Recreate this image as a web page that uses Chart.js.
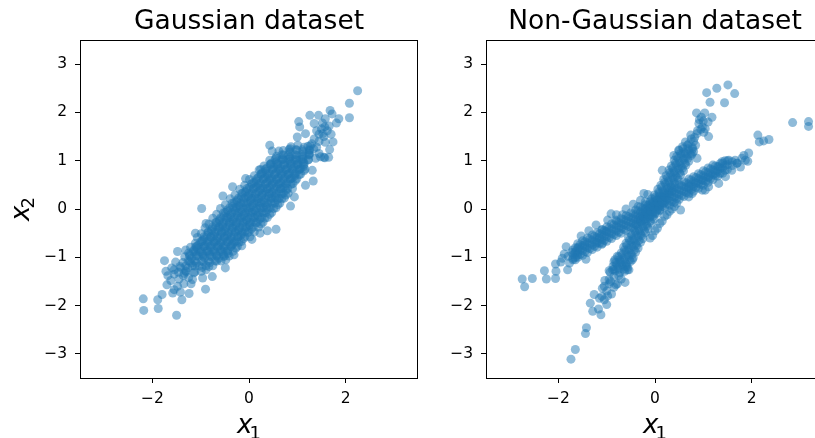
<!DOCTYPE html>
<html>
<head>
<meta charset="utf-8">
<script src="https://cdn.jsdelivr.net/npm/chart.js@4"></script>
<style>
  html, body { margin: 0; padding: 0; background: #fff; }
  body { position: relative; width: 815px; height: 438px; overflow: hidden; }
  canvas { position: absolute; top: 0; }
  #left { left: 0; }
  #right { left: 406px; }
</style>
</head>
<body>
<canvas id="left" width="430" height="438"></canvas>
<canvas id="right" width="430" height="438"></canvas>
<script>
// tick values and titles
const xTickValues = [-2, 0, 2];
const yTickValues = [-3, -2, -1, 0, 1, 2, 3];
const panelTitles = ['Gaussian dataset', 'Non-Gaussian dataset'];

// Gaussian dataset, [x1, x2] pairs
const gaussCore = [
  [-1.46,-1.31],[-1.31,-1.28],[-1.14,-1.32],[-0.99,-1.29],
  [-1.43,-1.19],[-1.27,-1.22],[-1.12,-1.18],[-0.97,-1.21],[-0.83,-1.19],
  [-1.37,-1.11],[-1.23,-1.08],[-1.09,-1.12],[-0.95,-1.09],[-0.81,-1.11],[-0.67,-1.08],
  [-1.33,-0.99],[-1.19,-1.02],[-1.05,-0.98],[-0.92,-1.01],[-0.77,-0.99],[-0.63,-1.02],[-0.51,-0.98],
  [-1.25,-0.91],[-1.11,-0.88],[-0.97,-0.92],[-0.83,-0.89],[-0.69,-0.91],[-0.55,-0.88],[-0.43,-0.92],
  [-1.21,-0.79],[-1.07,-0.82],[-0.93,-0.78],[-0.79,-0.81],[-0.65,-0.79],[-0.51,-0.82],[-0.37,-0.78],[-0.27,-0.81],
  [-1.11,-0.71],[-0.98,-0.68],[-0.85,-0.72],[-0.72,-0.69],[-0.59,-0.71],[-0.46,-0.68],[-0.33,-0.72],[-0.21,-0.69],
  [-1.07,-0.59],[-0.93,-0.62],[-0.79,-0.58],[-0.65,-0.61],[-0.51,-0.59],[-0.37,-0.62],[-0.23,-0.58],[-0.11,-0.61],
  [-0.99,-0.51],[-0.85,-0.48],[-0.71,-0.52],[-0.57,-0.49],[-0.43,-0.51],[-0.29,-0.48],[-0.15,-0.52],[-0.03,-0.49],
  [-0.91,-0.39],[-0.77,-0.42],[-0.63,-0.38],[-0.49,-0.41],[-0.35,-0.39],[-0.21,-0.42],[-0.07,-0.38],[0.05,-0.41],
  [-0.83,-0.31],[-0.69,-0.28],[-0.55,-0.32],[-0.41,-0.29],[-0.27,-0.31],[-0.13,-0.28],[0.01,-0.32],[0.14,-0.29],[0.25,-0.31],
  [-0.75,-0.19],[-0.61,-0.22],[-0.47,-0.18],[-0.33,-0.21],[-0.19,-0.19],[-0.05,-0.22],[0.09,-0.18],[0.22,-0.21],[0.33,-0.19],
  [-0.67,-0.11],[-0.53,-0.08],[-0.39,-0.12],[-0.25,-0.09],[-0.11,-0.11],[0.03,-0.08],[0.17,-0.12],[0.30,-0.09],[0.43,-0.11],
  [-0.59,0.01],[-0.45,-0.02],[-0.31,0.02],[-0.17,-0.01],[-0.03,0.01],[0.11,-0.02],[0.25,0.02],[0.38,-0.01],[0.51,0.01],
  [-0.49,0.09],[-0.35,0.12],[-0.21,0.08],[-0.07,0.11],[0.07,0.09],[0.21,0.12],[0.35,0.08],[0.48,0.11],[0.60,0.09],
  [-0.39,0.21],[-0.25,0.18],[-0.11,0.22],[0.03,0.19],[0.17,0.21],[0.31,0.18],[0.45,0.22],[0.58,0.19],[0.68,0.21],
  [-0.29,0.29],[-0.15,0.32],[-0.01,0.28],[0.13,0.31],[0.27,0.29],[0.41,0.32],[0.55,0.28],[0.67,0.31],[0.76,0.29],
  [-0.19,0.41],[-0.05,0.38],[0.09,0.42],[0.23,0.39],[0.37,0.41],[0.51,0.38],[0.65,0.42],[0.77,0.39],
  [-0.09,0.49],[0.05,0.52],[0.19,0.48],[0.33,0.51],[0.47,0.49],[0.61,0.52],[0.75,0.48],[0.87,0.51],
  [0.01,0.61],[0.15,0.58],[0.29,0.62],[0.43,0.59],[0.57,0.61],[0.71,0.58],[0.85,0.62],[0.96,0.59],
  [0.11,0.69],[0.25,0.72],[0.39,0.68],[0.53,0.71],[0.67,0.69],[0.81,0.72],[0.94,0.68],[1.04,0.71],
  [0.21,0.81],[0.35,0.78],[0.49,0.82],[0.63,0.79],[0.77,0.81],[0.91,0.78],[1.04,0.82],[1.14,0.79],
  [0.31,0.89],[0.45,0.92],[0.59,0.88],[0.73,0.91],[0.87,0.89],[1.01,0.92],[1.13,0.88],
  [0.43,1.01],[0.57,0.98],[0.71,1.02],[0.85,0.99],[0.99,1.01],[1.12,0.98],[1.23,1.02],
  [0.57,1.09],[0.71,1.12],[0.85,1.08],[0.99,1.11],[1.12,1.09],[1.25,1.12],
  [0.71,1.21],[0.85,1.18],[0.99,1.22],[1.12,1.19],[1.25,1.21],
  [0.87,1.29],[1.01,1.32],[1.14,1.28],[1.27,1.31],
  [-1.23,-0.95],[-1.09,-0.96],[-0.95,-0.94],[-0.81,-0.95],[-0.67,-0.96],[-0.53,-0.94],
  [-1.14,-0.85],[-1.00,-0.84],[-0.86,-0.86],[-0.72,-0.85],[-0.58,-0.84],[-0.44,-0.86],
  [-1.05,-0.75],[-0.91,-0.76],[-0.77,-0.74],[-0.63,-0.75],[-0.49,-0.76],[-0.35,-0.74],
  [-0.96,-0.65],[-0.82,-0.64],[-0.68,-0.66],[-0.54,-0.65],[-0.40,-0.64],[-0.26,-0.66],
  [-0.87,-0.55],[-0.73,-0.56],[-0.59,-0.54],[-0.45,-0.55],[-0.31,-0.56],[-0.17,-0.54],
  [-0.78,-0.45],[-0.64,-0.44],[-0.50,-0.46],[-0.36,-0.45],[-0.22,-0.44],[-0.08,-0.46],
  [-0.69,-0.35],[-0.55,-0.36],[-0.41,-0.34],[-0.27,-0.35],[-0.13,-0.36],[0.01,-0.34],
  [-0.61,-0.25],[-0.47,-0.24],[-0.33,-0.26],[-0.19,-0.25],[-0.05,-0.24],[0.09,-0.26],
  [-0.52,-0.15],[-0.38,-0.16],[-0.24,-0.14],[-0.10,-0.15],[0.04,-0.16],[0.18,-0.14],
  [-0.43,-0.05],[-0.29,-0.04],[-0.15,-0.06],[-0.01,-0.05],[0.13,-0.04],[0.27,-0.06],
  [-0.34,0.05],[-0.20,0.06],[-0.06,0.04],[0.08,0.05],[0.22,0.06],[0.36,0.04],
  [-0.25,0.15],[-0.11,0.14],[0.03,0.16],[0.17,0.15],[0.31,0.14],[0.45,0.16],
  [-0.16,0.25],[-0.02,0.26],[0.12,0.24],[0.26,0.25],[0.40,0.26],[0.54,0.24],
  [-0.08,0.35],[0.06,0.34],[0.20,0.36],[0.34,0.35],[0.48,0.34],[0.62,0.36],
  [0.01,0.45],[0.15,0.46],[0.29,0.44],[0.43,0.45],[0.57,0.46],[0.71,0.44],
  [0.10,0.55],[0.24,0.54],[0.38,0.56],[0.52,0.55],[0.66,0.54],[0.80,0.56],
  [0.19,0.65],[0.33,0.66],[0.47,0.64],[0.61,0.65],[0.75,0.66],[0.89,0.64],
  [0.28,0.75],[0.42,0.74],[0.56,0.76],[0.70,0.75],[0.84,0.74],[0.98,0.76],
  [0.37,0.85],[0.51,0.86],[0.65,0.84],[0.79,0.85],[0.93,0.86],[1.07,0.84],
  [0.46,0.95],[0.60,0.94],[0.74,0.96],[0.88,0.95],[1.02,0.94],[1.14,0.96],
  [0.56,1.05],[0.70,1.04],[0.84,1.06],[0.98,1.05],[1.12,1.04]
];
const gaussCoreFill = [
  [-1.31,-1.175],[-1.17,-1.175],[-1.03,-1.175],[-0.89,-1.175],[-0.75,-1.175],
  [-1.26,-1.075],[-1.12,-1.075],[-0.98,-1.075],[-0.84,-1.075],[-0.70,-1.075],[-0.58,-1.075],
  [-1.23,-0.975],[-1.09,-0.975],[-0.95,-0.975],[-0.81,-0.975],[-0.67,-0.975],[-0.53,-0.975],[-0.41,-0.975],
  [-1.15,-0.875],[-1.01,-0.875],[-0.87,-0.875],[-0.73,-0.875],[-0.59,-0.875],[-0.45,-0.875],[-0.33,-0.875],
  [-1.08,-0.775],[-0.94,-0.775],[-0.80,-0.775],[-0.66,-0.775],[-0.52,-0.775],[-0.38,-0.775],[-0.24,-0.775],
  [-1.00,-0.675],[-0.86,-0.675],[-0.72,-0.675],[-0.58,-0.675],[-0.44,-0.675],[-0.30,-0.675],[-0.16,-0.675],
  [-0.93,-0.575],[-0.79,-0.575],[-0.65,-0.575],[-0.51,-0.575],[-0.37,-0.575],[-0.23,-0.575],[-0.09,-0.575],[0.02,-0.575],
  [-0.84,-0.475],[-0.70,-0.475],[-0.56,-0.475],[-0.42,-0.475],[-0.28,-0.475],[-0.14,-0.475],[0.00,-0.475],[0.11,-0.475],
  [-0.75,-0.375],[-0.61,-0.375],[-0.47,-0.375],[-0.33,-0.375],[-0.19,-0.375],[-0.05,-0.375],[0.09,-0.375],[0.20,-0.375],
  [-0.67,-0.275],[-0.53,-0.275],[-0.39,-0.275],[-0.25,-0.275],[-0.11,-0.275],[0.03,-0.275],[0.17,-0.275],[0.29,-0.275],
  [-0.58,-0.175],[-0.44,-0.175],[-0.30,-0.175],[-0.16,-0.175],[-0.02,-0.175],[0.12,-0.175],[0.26,-0.175],[0.38,-0.175],
  [-0.49,-0.075],[-0.35,-0.075],[-0.21,-0.075],[-0.07,-0.075],[0.07,-0.075],[0.21,-0.075],[0.35,-0.075],[0.47,-0.075],
  [-0.40,0.025],[-0.26,0.025],[-0.12,0.025],[0.02,0.025],[0.16,0.025],[0.30,0.025],[0.44,0.025],[0.56,0.025],
  [-0.31,0.125],[-0.17,0.125],[-0.03,0.125],[0.11,0.125],[0.25,0.125],[0.39,0.125],[0.53,0.125],[0.64,0.125],
  [-0.22,0.225],[-0.08,0.225],[0.06,0.225],[0.20,0.225],[0.34,0.225],[0.48,0.225],[0.62,0.225],[0.73,0.225],
  [-0.13,0.325],[0.01,0.325],[0.15,0.325],[0.29,0.325],[0.43,0.325],[0.57,0.325],[0.71,0.325],[0.81,0.325],
  [-0.04,0.425],[0.10,0.425],[0.24,0.425],[0.38,0.425],[0.52,0.425],[0.66,0.425],[0.80,0.425],[0.90,0.425],
  [0.07,0.525],[0.21,0.525],[0.35,0.525],[0.49,0.525],[0.63,0.525],[0.77,0.525],[0.91,0.525],
  [0.16,0.625],[0.30,0.625],[0.44,0.625],[0.58,0.625],[0.72,0.625],[0.86,0.625],[0.99,0.625],
  [0.25,0.725],[0.39,0.725],[0.53,0.725],[0.67,0.725],[0.81,0.725],[0.95,0.725],[1.07,0.725],
  [0.34,0.825],[0.48,0.825],[0.62,0.825],[0.76,0.825],[0.90,0.825],[1.04,0.825],[1.16,0.825],
  [0.44,0.925],[0.58,0.925],[0.72,0.925],[0.86,0.925],[1.00,0.925],[1.14,0.925],
  [0.54,1.025],[0.68,1.025],[0.82,1.025],[0.96,1.025],[1.10,1.025],[1.23,1.025],
  [0.68,1.125],[0.82,1.125],[0.96,1.125],[1.10,1.125],[1.24,1.125],
  [0.83,1.225],[0.97,1.225],[1.11,1.225],[1.25,1.225]
];
const gaussHalo = [
  [2.25,2.45],[2.08,2.19],[2.08,1.89],[1.68,2.04],[1.72,1.97],[1.44,1.94],[1.26,1.94],
  [1.03,1.81],[1.05,1.70],[1.35,1.77],[1.58,1.87],[1.86,1.87],[1.81,1.78],[1.57,1.70],
  [1.17,1.56],[1.00,1.49],[1.53,1.56],[1.74,1.39],[1.67,1.23],[1.55,1.07],[1.65,1.07],
  [1.34,1.25],[0.43,1.32],[0.48,1.20],[0.62,1.20],[0.85,1.25],[1.31,0.80],[1.17,0.49],
  [1.33,0.58],[0.94,0.25],[0.86,0.06],[0.24,0.82],[0.56,-0.42],[0.38,-0.45],[0.23,-0.50],
  [0.06,-0.63],[-0.15,-0.76],[-0.31,-0.95],[-0.48,-1.05],[-0.49,-1.22],[-0.76,-1.40],
  [-0.90,-1.66],[-0.96,-1.43],[-1.17,-1.46],[-1.24,-1.75],[-1.39,-1.88],[-1.50,-2.20],
  [-1.55,-1.67],[-1.70,-1.57],[-1.72,-1.29],[-1.75,-1.07],[-1.80,-1.77],[-1.89,-1.88],
  [-1.88,-2.06],[-2.19,-1.86],[-2.18,-2.10],[-1.48,-0.88],[-1.31,-0.85],[-1.11,-0.50],
  [-0.98,0.01],[-0.54,0.27],[-0.34,0.46],[-0.07,0.63],[-0.89,-0.30],[-1.10,-0.78],
  [-1.20,-1.12],[-1.34,-1.33],[-1.55,-1.26],[-0.89,-1.26],[-1.58,-1.74],
  [1.35,1.45],[1.45,1.55],[1.55,1.50],[1.62,1.62],[1.50,1.66],[1.40,1.62],[1.70,1.55],
  [1.58,1.38],[1.45,1.40],[1.66,1.72],[1.52,1.78],[1.30,1.35],[1.22,1.30],[1.40,1.28],
  [1.25,1.15],[1.45,1.15],[1.38,1.05],[1.48,1.08],[1.57,1.06],
  [-1.45,-1.45],[-1.55,-1.35],[-1.35,-1.55],[-1.62,-1.48],[-1.48,-1.60],[-1.30,-1.30],
  [-1.42,-1.22],[-1.60,-1.22],[-1.25,-1.42],[-1.12,-1.30],[-1.68,-1.38],[-1.42,-1.72],
  [-1.36,-1.38],[-1.20,-1.55],[-1.52,-1.10]
];

// Non-Gaussian dataset: steep arm, shallow arm, centre filler and tails
const nonGaussSteep = [
  [-0.93,-1.31],[-0.83,-1.28],[-0.73,-1.32],[-0.63,-1.29],
  [-0.87,-1.19],[-0.77,-1.22],[-0.67,-1.18],[-0.57,-1.21],
  [-0.81,-1.11],[-0.71,-1.08],[-0.61,-1.12],[-0.51,-1.09],
  [-0.75,-0.99],[-0.65,-1.02],[-0.55,-0.98],[-0.45,-1.01],
  [-0.70,-0.91],[-0.60,-0.88],[-0.50,-0.92],[-0.40,-0.89],
  [-0.65,-0.79],[-0.55,-0.82],[-0.45,-0.78],[-0.35,-0.81],
  [-0.60,-0.71],[-0.50,-0.68],[-0.40,-0.72],[-0.30,-0.69],
  [-0.55,-0.59],[-0.45,-0.62],[-0.35,-0.58],[-0.25,-0.61],
  [-0.50,-0.51],[-0.40,-0.48],[-0.30,-0.52],[-0.20,-0.49],
  [-0.44,-0.39],[-0.34,-0.42],[-0.24,-0.38],[-0.14,-0.41],
  [-0.38,-0.31],[-0.28,-0.28],[-0.18,-0.32],[-0.08,-0.29],
  [-0.32,-0.19],[-0.22,-0.22],[-0.12,-0.18],[-0.02,-0.21],
  [-0.26,-0.11],[-0.16,-0.08],[-0.06,-0.12],[0.04,-0.09],
  [-0.20,0.01],[-0.10,-0.02],[0.00,0.02],[0.10,-0.01],
  [-0.13,0.09],[-0.03,0.12],[0.07,0.08],[0.17,0.11],
  [-0.07,0.21],[0.03,0.18],[0.13,0.22],[0.23,0.19],
  [-0.01,0.29],[0.09,0.32],[0.19,0.28],[0.29,0.31],
  [0.06,0.41],[0.16,0.38],[0.26,0.42],[0.36,0.39],
  [0.12,0.49],[0.22,0.52],[0.32,0.48],[0.42,0.51],
  [0.18,0.61],[0.28,0.58],[0.38,0.62],[0.48,0.59],
  [0.23,0.69],[0.33,0.72],[0.43,0.68],[0.53,0.71],
  [0.29,0.81],[0.39,0.78],[0.49,0.82],[0.59,0.79],
  [0.34,0.89],[0.44,0.92],[0.54,0.88],[0.64,0.91],
  [0.40,1.01],[0.50,0.98],[0.60,1.02],[0.70,0.99],
  [0.45,1.09],[0.55,1.12],[0.65,1.08],[0.75,1.11],
  [0.50,1.21],[0.60,1.18],[0.70,1.22],[0.80,1.19],
  [0.57,1.29],[0.67,1.32],[0.77,1.28],
  [0.75,1.45],[0.82,1.48],[0.88,1.62],[0.95,1.65],[0.92,1.85],[1.00,1.82],[0.80,1.40],[0.70,1.35]
];
const nonGaussSteepFill = [
  [-0.85,-1.25],[-0.75,-1.25],[-0.65,-1.25],
  [-0.79,-1.15],[-0.69,-1.15],[-0.59,-1.15],
  [-0.73,-1.05],[-0.63,-1.05],[-0.53,-1.05],
  [-0.68,-0.95],[-0.58,-0.95],[-0.48,-0.95],
  [-0.63,-0.85],[-0.53,-0.85],[-0.43,-0.85],
  [-0.58,-0.75],[-0.48,-0.75],[-0.38,-0.75],
  [-0.53,-0.65],[-0.43,-0.65],[-0.33,-0.65],
  [-0.48,-0.55],[-0.38,-0.55],[-0.28,-0.55],
  [-0.42,-0.45],[-0.32,-0.45],[-0.22,-0.45],
  [-0.36,-0.35],[-0.26,-0.35],[-0.16,-0.35],
  [-0.30,-0.25],[-0.20,-0.25],[-0.10,-0.25],
  [-0.24,-0.15],[-0.14,-0.15],[-0.04,-0.15],
  [-0.18,-0.05],[-0.08,-0.05],[0.02,-0.05],
  [-0.12,0.05],[-0.02,0.05],[0.08,0.05],
  [-0.05,0.15],[0.05,0.15],[0.15,0.15],
  [0.01,0.25],[0.11,0.25],[0.21,0.25],
  [0.08,0.35],[0.18,0.35],[0.28,0.35],
  [0.14,0.45],[0.24,0.45],[0.34,0.45],
  [0.20,0.55],[0.30,0.55],[0.40,0.55],
  [0.26,0.65],[0.36,0.65],[0.46,0.65],
  [0.31,0.75],[0.41,0.75],[0.51,0.75],
  [0.37,0.85],[0.47,0.85],[0.57,0.85],
  [0.42,0.95],[0.52,0.95],[0.62,0.95],
  [0.48,1.05],[0.58,1.05],[0.68,1.05],
  [0.53,1.15],[0.63,1.15],[0.73,1.15],
  [0.58,1.25],[0.68,1.25],[0.78,1.25]
];
const nonGaussShallow = [
  [-1.70,-1.05],[-1.70,-0.95],[-1.70,-0.85],
  [-1.60,-1.00],[-1.60,-0.90],[-1.60,-0.80],[-1.60,-0.72],
  [-1.50,-0.96],[-1.50,-0.86],[-1.50,-0.76],[-1.50,-0.66],
  [-1.40,-0.90],[-1.40,-0.80],[-1.40,-0.70],[-1.40,-0.60],
  [-1.30,-0.84],[-1.30,-0.74],[-1.30,-0.64],[-1.30,-0.54],
  [-1.20,-0.79],[-1.20,-0.69],[-1.20,-0.59],[-1.20,-0.49],
  [-1.10,-0.73],[-1.10,-0.63],[-1.10,-0.53],[-1.10,-0.43],
  [-1.00,-0.67],[-1.00,-0.57],[-1.00,-0.47],[-1.00,-0.37],
  [-0.90,-0.61],[-0.90,-0.51],[-0.90,-0.41],[-0.90,-0.31],
  [-0.80,-0.55],[-0.80,-0.45],[-0.80,-0.35],[-0.80,-0.25],
  [-0.70,-0.50],[-0.70,-0.40],[-0.70,-0.30],[-0.70,-0.20],
  [-0.60,-0.44],[-0.60,-0.34],[-0.60,-0.24],[-0.60,-0.14],
  [-0.50,-0.38],[-0.50,-0.28],[-0.50,-0.18],[-0.50,-0.08],
  [-0.40,-0.32],[-0.40,-0.22],[-0.40,-0.12],[-0.40,-0.02],
  [-0.30,-0.26],[-0.30,-0.16],[-0.30,-0.06],[-0.30,0.04],
  [-0.20,-0.21],[-0.20,-0.11],[-0.20,-0.01],[-0.20,0.09],
  [-0.10,-0.15],[-0.10,-0.05],[-0.10,0.05],[-0.10,0.15],
  [0.00,-0.09],[0.00,0.01],[0.00,0.11],[0.00,0.21],
  [0.10,-0.03],[0.10,0.07],[0.10,0.17],[0.10,0.27],
  [0.20,0.03],[0.20,0.13],[0.20,0.23],[0.20,0.33],
  [0.30,0.08],[0.30,0.18],[0.30,0.28],[0.30,0.38],
  [0.40,0.14],[0.40,0.24],[0.40,0.34],[0.40,0.44],
  [0.50,0.20],[0.50,0.30],[0.50,0.40],[0.50,0.50],
  [0.60,0.26],[0.60,0.36],[0.60,0.46],[0.60,0.56],
  [0.70,0.32],[0.70,0.42],[0.70,0.52],[0.70,0.62],
  [0.80,0.37],[0.80,0.47],[0.80,0.57],[0.80,0.67],
  [0.90,0.43],[0.90,0.53],[0.90,0.63],[0.90,0.73],
  [1.00,0.49],[1.00,0.59],[1.00,0.69],[1.00,0.79],
  [1.10,0.55],[1.10,0.65],[1.10,0.75],[1.10,0.85],
  [1.20,0.61],[1.20,0.71],[1.20,0.81],[1.20,0.91],
  [1.30,0.68],[1.30,0.78],[1.30,0.88],
  [1.40,0.74],[1.40,0.84],[1.40,0.94],
  [1.50,0.82],[1.50,0.92],[1.50,1.00],
  [1.60,0.90],[1.60,0.98],
  [1.70,0.95]
];
const nonGaussShallowFill = [
  [-1.65,-1.00],[-1.65,-0.90],[-1.65,-0.80],
  [-1.55,-0.94],[-1.55,-0.84],[-1.55,-0.74],
  [-1.45,-0.88],[-1.45,-0.78],[-1.45,-0.68],
  [-1.35,-0.82],[-1.35,-0.72],[-1.35,-0.62],
  [-1.25,-0.77],[-1.25,-0.67],[-1.25,-0.57],
  [-1.15,-0.71],[-1.15,-0.61],[-1.15,-0.51],
  [-1.05,-0.65],[-1.05,-0.55],[-1.05,-0.45],
  [-0.95,-0.59],[-0.95,-0.49],[-0.95,-0.39],
  [-0.85,-0.53],[-0.85,-0.43],[-0.85,-0.33],
  [-0.75,-0.48],[-0.75,-0.38],[-0.75,-0.28],
  [-0.65,-0.42],[-0.65,-0.32],[-0.65,-0.22],
  [-0.55,-0.36],[-0.55,-0.26],[-0.55,-0.16],
  [-0.45,-0.30],[-0.45,-0.20],[-0.45,-0.10],
  [-0.35,-0.24],[-0.35,-0.14],[-0.35,-0.04],
  [-0.25,-0.19],[-0.25,-0.09],[-0.25,0.01],
  [-0.15,-0.13],[-0.15,-0.03],[-0.15,0.07],
  [-0.05,-0.07],[-0.05,0.03],[-0.05,0.13],
  [0.05,-0.01],[0.05,0.09],[0.05,0.19],
  [0.15,0.05],[0.15,0.15],[0.15,0.25],
  [0.25,0.11],[0.25,0.21],[0.25,0.31],
  [0.35,0.16],[0.35,0.26],[0.35,0.36],
  [0.45,0.22],[0.45,0.32],[0.45,0.42],
  [0.55,0.28],[0.55,0.38],[0.55,0.48],
  [0.65,0.34],[0.65,0.44],[0.65,0.54],
  [0.75,0.40],[0.75,0.50],[0.75,0.60],
  [0.85,0.45],[0.85,0.55],[0.85,0.65],
  [0.95,0.51],[0.95,0.61],[0.95,0.71],
  [1.05,0.57],[1.05,0.67],[1.05,0.77],
  [1.15,0.63],[1.15,0.73],[1.15,0.83],
  [1.25,0.69],[1.25,0.79],[1.25,0.89],
  [1.35,0.74],[1.35,0.84],[1.35,0.94],
  [1.45,0.80],[1.45,0.90],[1.45,1.00]
];
const nonGaussCentre = [
  [0.00,-0.45],[0.10,-0.30],[0.20,-0.15],[0.30,-0.05],[0.40,0.05],[-0.05,-0.55],
  [0.05,-0.40],[0.15,-0.25],[0.25,-0.12],[0.35,0.00],[0.45,0.12],[-0.10,-0.60],
  [-0.60,0.00],[-0.45,0.10],[-0.30,0.18],[-0.80,-0.12],[-0.15,0.30],[-0.35,0.05],[-0.20,0.15]
];
const nonGaussTails = [
  [-2.75,-1.45],[-2.70,-1.61],[-2.54,-1.44],[-2.29,-1.28],[-2.25,-1.45],[-2.06,-1.14],
  [-2.05,-1.29],[-2.06,-1.44],[-1.81,-1.26],[-1.88,-0.93],[-1.84,-0.78],[-1.77,-1.12],
  [-1.65,-1.05],[-1.64,-0.88],[-1.53,-0.56],[-1.43,-1.04],[-1.46,-0.74],[-1.37,-0.45],
  [-1.22,-0.33],[-1.15,-0.60],[-0.91,-0.10],[-1.09,-0.43],[-0.98,-0.23],[-1.02,-0.47],
  [-0.81,-0.23],[-0.67,-0.12],[-0.23,0.32],[-1.22,-0.71],[-1.09,-0.71],
  [-1.92,-1.02],[-1.80,-0.98],[-1.72,-0.90],[-1.70,-1.02],[-1.60,-0.95],[-1.58,-0.80],[-1.95,-1.10],
  [-1.74,-3.11],[-1.65,-2.91],[-1.44,-2.58],[-1.42,-2.46],[-1.29,-2.12],[-1.12,-2.19],
  [-1.17,-2.07],[-1.00,-1.98],[-1.34,-1.95],[-1.26,-1.77],[-1.10,-1.81],[-1.09,-1.64],
  [-0.90,-1.76],[-0.95,-1.46],[-0.81,-1.57],[-0.62,-1.52],[-0.95,-1.28],[-0.85,-1.09],
  [-0.78,-0.98],[-0.54,-1.26],[-0.47,-1.05],[-0.60,-1.19],[-1.04,-1.48],[-0.88,-1.26],
  [-0.83,-1.05],[-0.74,-1.12],[-0.57,-1.26],
  [-0.85,-1.40],[-0.75,-1.38],[-0.95,-1.55],[-0.85,-1.62],[-1.00,-1.70],[-0.92,-1.50],
  [-1.05,-1.60],[-0.70,-1.45],[-0.78,-1.55],[-1.15,-1.85],[-1.05,-1.88],[-0.98,-1.80],
  [1.07,2.41],[1.28,2.50],[1.51,2.57],[1.65,2.39],[1.14,2.21],[1.44,2.20],[0.86,1.99],
  [1.03,1.99],[1.10,1.80],[0.91,1.77],[1.01,1.59],[0.87,1.56],[1.11,1.50],[0.74,1.53],
  [0.63,1.39],[0.84,1.32],[0.49,1.22],[0.39,1.11],[0.77,1.15],[0.15,0.80],[0.87,1.05],
  [0.98,1.70],[1.18,1.90],[1.04,1.66],[0.96,1.90],
  [1.94,1.16],[1.87,1.01],[1.77,0.87],[1.66,1.01],[1.53,1.01],[1.39,0.98],[1.32,0.87],
  [1.25,0.74],[1.11,0.67],[0.98,0.60],[0.84,0.53],[0.70,0.46],[0.53,-0.02],[0.77,0.32],
  [1.04,0.39],[1.32,0.53],[1.46,0.67],[1.59,0.80],[0.70,0.25],[0.98,0.39],[1.11,0.46],
  [1.84,1.11],[1.92,0.99],[1.70,0.95],[1.80,1.05],
  [2.13,1.53],[2.16,1.39],[2.25,1.41],[2.36,1.44],[2.85,1.79],[3.18,1.81],[3.18,1.71]
];

const pointColor = 'rgba(31,119,180,0.5)';
const fontFamily = '"DejaVu Sans", sans-serif';

function toPoints(list) {
  return list.map(p => ({ x: p[0], y: p[1] }));
}

function tickText(v) {
  return String(v).replace('-', '\u2212');
}

// frame + mathtext-like axis labels
const framePlugin = {
  id: 'frame',
  afterDraw(chart) {
    const { ctx, chartArea: a } = chart;
    ctx.save();
    ctx.strokeStyle = '#000';
    ctx.lineWidth = 1;
    ctx.strokeRect(Math.round(a.left) + 0.5, Math.round(a.top) + 0.5,
      Math.round(a.right - a.left) - 1, Math.round(a.bottom - a.top));

    const drawLabel = (sub) => {
      ctx.font = 'italic 26px ' + fontFamily;
      const wx = ctx.measureText('x').width;
      ctx.font = '18px ' + fontFamily;
      const ws = ctx.measureText(sub).width;
      const total = wx - 3 + ws;
      const start = -total / 2;
      ctx.fillStyle = '#000';
      ctx.textBaseline = 'alphabetic';
      ctx.textAlign = 'left';
      ctx.font = 'italic 26px ' + fontFamily;
      ctx.fillText('x', start, 0);
      ctx.font = '18px ' + fontFamily;
      ctx.fillText(sub, start + wx - 3, 5.5);
    };

    const cx = (a.left + a.right) / 2;
    const cy = (a.top + a.bottom) / 2;
    ctx.save();
    ctx.translate(cx, 433);
    drawLabel('1');
    ctx.restore();

    if (chart.canvas.id === 'left') {
      ctx.save();
      ctx.translate(28.5, cy);
      ctx.rotate(-Math.PI / 2);
      drawLabel('2');
      ctx.restore();
    }
    ctx.restore();
  }
};

function makeChart(id, title, points) {
  const axisTicks = (values) => (scale) => {
    scale.ticks = values.map(v => ({ value: v }));
  };
  const grid = { drawOnChartArea: false, drawTicks: true, tickLength: 5, color: '#000', lineWidth: 1 };
  return new Chart(document.getElementById(id).getContext('2d'), {
    type: 'scatter',
    data: {
      datasets: [{
        data: toPoints(points),
        backgroundColor: pointColor,
        borderWidth: 0,
        pointRadius: 4.5,
        pointHoverRadius: 4.5
      }]
    },
    options: {
      responsive: false,
      animation: false,
      devicePixelRatio: 1,
      events: [],
      layout: { padding: { left: 0, right: 12, top: 0, bottom: 0 } },
      plugins: {
        legend: { display: false },
        tooltip: { enabled: false },
        title: {
          display: true,
          text: title,
          fullSize: false,
          color: '#000',
          font: { family: fontFamily, size: 26.5, weight: 'normal', lineHeight: 1.2 },
          padding: { top: 6.6, bottom: 1.6 }
        }
      },
      scales: {
        x: {
          type: 'linear',
          min: -3.5,
          max: 3.5,
          afterBuildTicks: axisTicks(xTickValues),
          afterFit: (s) => { s.height = 60; },
          grid: grid,
          border: { display: false },
          ticks: {
            color: '#000',
            font: { family: fontFamily, size: 15.5 },
            padding: 6.5,
            maxRotation: 0,
            autoSkip: false,
            callback: tickText
          }
        },
        y: {
          type: 'linear',
          min: -3.5,
          max: 3.5,
          afterBuildTicks: axisTicks(yTickValues),
          afterFit: (s) => { s.width = 80; },
          grid: grid,
          border: { display: false },
          ticks: {
            color: '#000',
            font: { family: fontFamily, size: 15.5 },
            padding: 8,
            autoSkip: false,
            callback: tickText
          }
        }
      }
    },
    plugins: [framePlugin]
  });
}

makeChart('left', panelTitles[0], gaussCore.concat(gaussCoreFill, gaussHalo));
makeChart('right', panelTitles[1],
  nonGaussShallow.concat(nonGaussShallowFill, nonGaussSteep, nonGaussSteepFill, nonGaussCentre, nonGaussTails));
</script>
</body>
</html>
